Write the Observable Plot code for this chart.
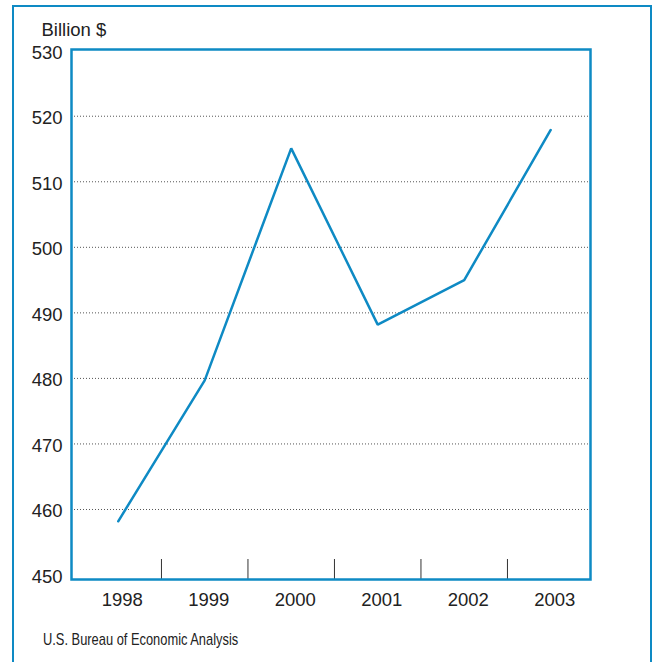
<!DOCTYPE html>
<html>
<head>
<meta charset="utf-8">
<script src="https://cdn.jsdelivr.net/npm/d3@7"></script>
<script src="https://cdn.jsdelivr.net/npm/@observablehq/plot@0.6"></script>
<style>
  html, body { margin: 0; padding: 0; background: #fff; overflow: hidden; }
  #wrap { position: relative; width: 653px; height: 662px; }
  #border { position: absolute; left: 12px; top: 5px; width: 640px; height: 700px; box-sizing: border-box;
            border: 2px solid #0e8ac4; border-bottom: none; }
  #chart { position: absolute; left: 0; top: 0; }
  #caption { position: absolute; left: 43px; top: 631px; font-family: "Liberation Sans", Arial, sans-serif;
             font-size: 15.7px; color: #222; white-space: nowrap; transform: scaleX(0.82); transform-origin: left center; }
</style>
</head>
<body>
<div id="wrap">
  <div id="border"></div>
  <div id="chart"></div>
  <div id="caption">U.S. Bureau of Economic Analysis</div>
</div>
<script>
const years = [1998, 1999, 2000, 2001, 2002, 2003];
const values = [458.2, 479.7, 515.1, 488.2, 495.0, 517.9];
const yTicks = [450, 460, 470, 480, 490, 500, 510, 520, 530];
const gridTicks = [460, 470, 480, 490, 500, 510, 520];
const dividers = [1998.5, 1999.5, 2000.5, 2001.5, 2002.5];
const unitLabel = "Billion $";

const data = years.map((y, i) => ({year: y, value: values[i]}));
const blue = "#0e8ac4";

const chart = Plot.plot({
  width: 653,
  height: 620,
  marginLeft: 71,
  marginRight: 63,
  marginTop: 49,
  marginBottom: 41,
  style: {fontFamily: "'Liberation Sans', Arial, sans-serif", fontSize: "18px", color: "#222", background: "transparent"},
  x: {domain: [1997.46, 2003.46], axis: null},
  y: {domain: [449.32, 530.18], axis: null},
  marks: [
    Plot.gridY(gridTicks, {stroke: "#555", strokeOpacity: 1, strokeWidth: 1, strokeDasharray: "1,2"}),
    Plot.ruleX(dividers, {stroke: "#333", strokeWidth: 1, insetTop: 510}),
    Plot.axisY({ticks: yTicks, tickSize: 0, tickPadding: 9, dy: 2, label: null, fontSize: 18.5}),
    Plot.axisX({ticks: years, tickSize: 0, tickPadding: 13, dx: 4, tickFormat: d => String(d), label: null, fontSize: 18.5}),
    Plot.line(data, {x: "year", y: "value", stroke: blue, strokeWidth: 2.5, strokeLinejoin: "miter"}),
    Plot.frame({stroke: blue, strokeWidth: 2.5}),
    Plot.text([unitLabel], {text: d => d, frameAnchor: "top-left", textAnchor: "start", lineAnchor: "middle", dx: -30, dy: -19, fontSize: 18.5, fill: "#222"})
  ]
});
document.getElementById("chart").appendChild(chart);
</script>
</body>
</html>
